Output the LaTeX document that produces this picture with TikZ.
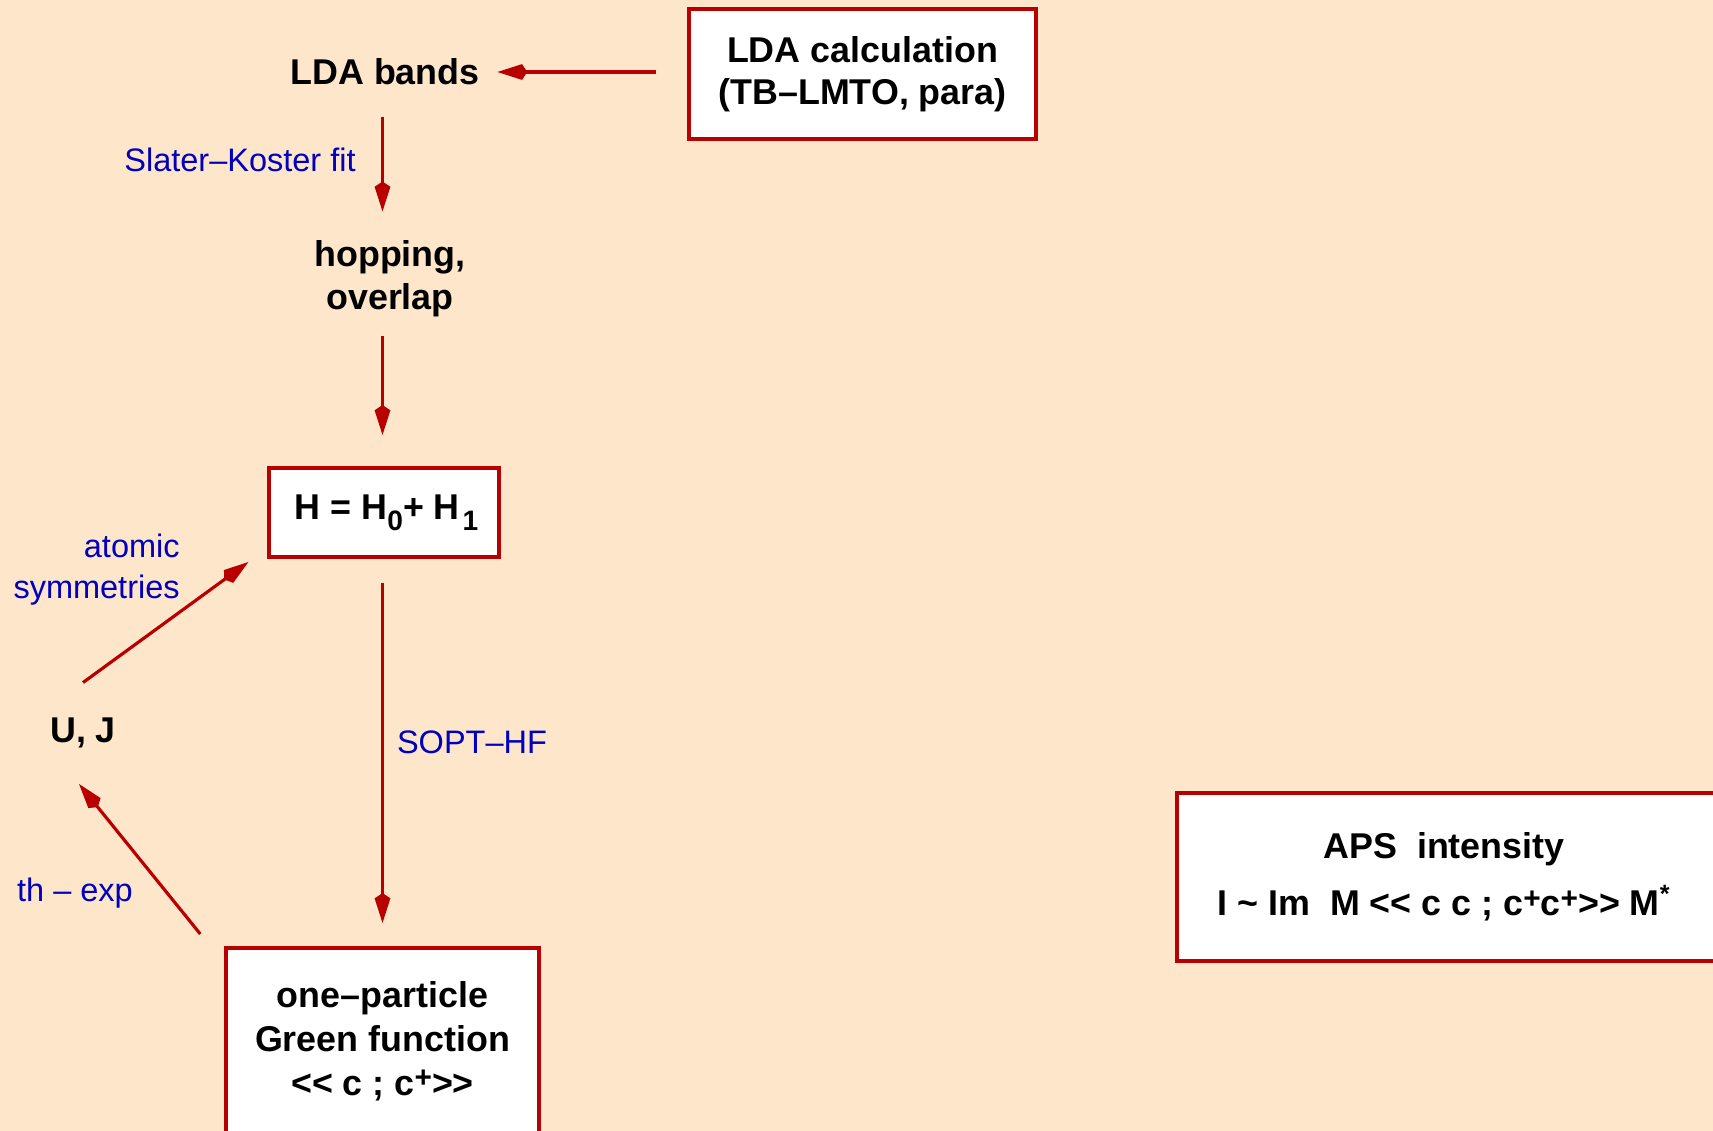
\documentclass[tikz,border=0pt]{standalone}
\usepackage{fontspec}
\newfontfamily\helv{Liberation Sans}
\usetikzlibrary{arrows.meta}
\definecolor{peach}{RGB}{254,230,202}
\definecolor{boxred}{RGB}{185,0,0}
\definecolor{noteblue}{RGB}{0,0,190}
\newcommand\boldfont{\helv\bfseries\fontsize{20.4}{24.5}\selectfont}
\newcommand\notefont{\helv\fontsize{18.5}{23.3}\selectfont}
\newcommand\lowidx[1]{\raisebox{-0.3em}{\fontsize{16}{16}\selectfont #1}}
\newcommand\dagsup[1]{\raisebox{0.2em}{\fontsize{17}{17}\selectfont #1}}
\tikzset{
  boxed/.style={draw=boxred, line width=1.8pt, fill=white, align=center, font=\boldfont},
  txt/.style={inner sep=0pt, align=center, font=\boldfont},
  remark/.style={inner sep=0pt, text=noteblue, font=\notefont},
  link/.style={draw=boxred, line width=1.8pt, -{Kite[length=17pt,width=9pt,inset=3pt]}}
}

\begin{document}
\begin{tikzpicture}[x=0.02cm, y=-0.02cm]
    \fill[peach] (0,0) rectangle (1713,1131);
    \useasboundingbox (0,0) rectangle (1713,1131);
    % boxes
    \node[boxed, minimum width=6.94cm, minimum height=2.6cm] (lda) at (862.5,74)
      {LDA calculation\\[-0.5pt](TB\textendash LMTO, para)};
    \node[boxed, minimum width=4.6cm, minimum height=1.78cm] (ham) at (384,512.5)
      {\hspace{0.1cm}H = H\lowidx{0}+ H\kern1.5pt\lowidx{1}};
    \node[boxed, minimum width=6.26cm, minimum height=3.72cm] (green) at (382.5,1041)
      {one\textendash particle\\[0.5pt]Green function\\[0.5pt]<\kern0pt< c ; c\dagsup{+}>\kern0pt>};
    \node[boxed, minimum width=11.66cm, minimum height=3.36cm] (apsbox) at (1468.5,877) {};
    \node[txt] (aps) at (1444,877)
      {APS\ \ intensity\\[8pt]I \textasciitilde{} Im\ \ M <\kern0pt< c c ; c\dagsup{+}c\dagsup{+}>\kern0pt> M\textsuperscript{*}};
    % plain texts
    \node[txt] (bands) at (385,72) {LDA bands};
    \node[txt] (hop) at (390,279) {hopping,\\overlap};
    \node[txt] (uj) at (83,733) {U, J};
    \node[remark] (fit) at (240,160) {Slater\textendash Koster fit};
    \node[remark, align=right, anchor=east] (atomic) at (180,570) {atomic\\symmetries};
    \node[remark] (thexp) at (75,893) {th \textendash{} exp};
    \node[remark] (sopt) at (472,742) {SOPT\textendash HF};
    % arrows
    \draw[link, shorten <=0.62cm, shorten >=0.35cm] (bands.east -| lda.west) -- (bands.east);
    \draw[link, shorten <=0.62cm, shorten >=0.58cm] (bands.south -| green.north) -- (hop.north -| green.north);
    \draw[link, shorten <=0.36cm, shorten >=0.63cm] (hop.south -| green.north) -- (ham.north -| green.north);
    \draw[link, shorten <=0.49cm, shorten >=0.47cm] (ham.south -| green.north) -- (green.north);
    \draw[link, shorten >=0.47cm] ([yshift=0.7cm]uj.north) -- (ham.197);
    \draw[link, shorten <=0.77cm] (green.154) -- ([xshift=-0.08cm,yshift=-0.71cm]uj.south);
\end{tikzpicture}
\end{document}
